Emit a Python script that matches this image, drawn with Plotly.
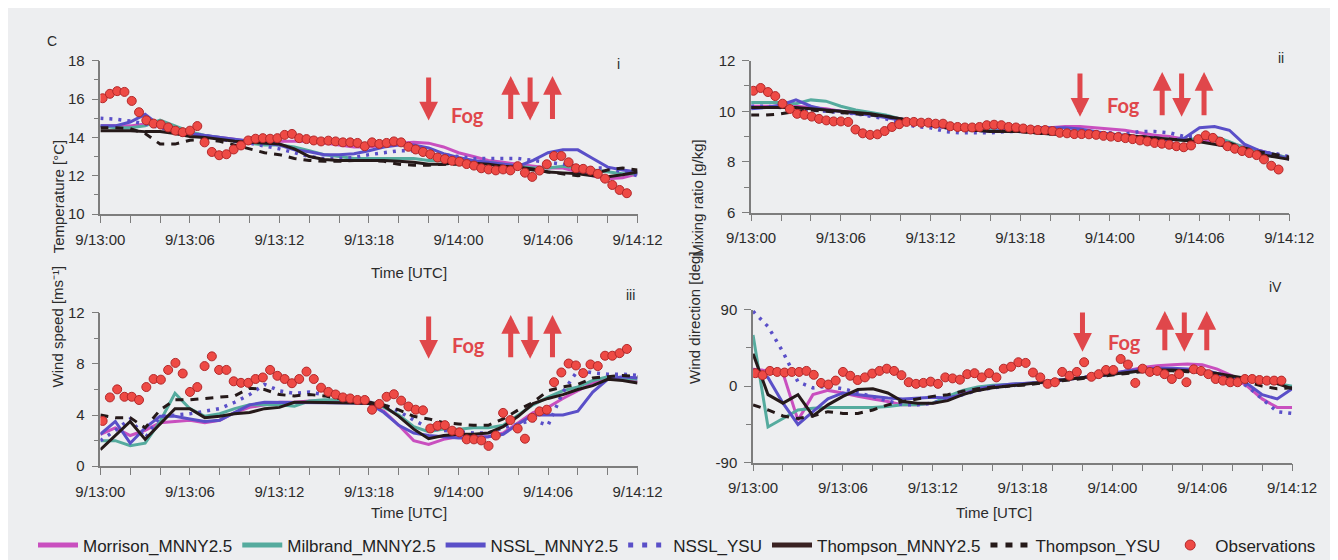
import plotly.graph_objects as go

W, H = 1338, 560

# ---------------- time grids / ticks ----------------
model_hours = list(range(37))                      # hourly model output, 9/13:00 .. 9/14:12
obs_hours = [round(0.15 + 0.488 * k, 3) for k in range(73)]   # ~30-min observations
tick_hours = [0, 6, 12, 18, 24, 30, 36]
tick_labels = ["9/13:00", "9/13:06", "9/13:12", "9/13:18", "9/14:00", "9/14:06", "9/14:12"]
minor_hours = list(range(0, 37, 2))
fog_times = [22.0, 27.5, 28.8, 30.3]
fog_dirs = ["down", "up", "down", "up"]

series_names = ["Morrison_MNNY2.5", "Milbrand_MNNY2.5", "NSSL_MNNY2.5", "NSSL_YSU",
                "Thompson_MNNY2.5", "Thompson_YSU"]

# ---------------- (i) Temperature [°C] ----------------
temp_morrison = [14.6,14.6,14.6,14.7,14.6,14.4,14.2,14.1,14.0,13.9,13.8,13.8,13.8,13.8,13.8,13.7,13.6,13.5,13.5,13.6,
                 13.7,13.75,13.7,13.5,13.2,13.0,12.8,12.7,12.6,12.5,12.4,12.4,12.2,12.0,11.85,11.9,12.1]
temp_milbrand = [14.6,14.5,14.5,14.6,14.9,14.6,14.3,14.1,14.0,13.8,13.7,13.6,13.6,13.5,13.3,13.1,13.0,12.9,12.9,12.9,
                 12.9,12.9,12.8,12.8,12.7,12.7,12.7,12.6,12.5,12.4,12.4,12.5,12.4,12.3,12.2,12.1,12.1]
temp_nssl = [14.6,14.6,14.8,15.2,14.6,14.4,14.2,14.1,14.0,13.9,13.8,13.7,13.6,13.35,13.25,13.1,13.1,13.15,13.3,13.5,
             13.6,13.6,13.45,13.15,12.95,12.8,12.7,12.6,12.5,12.8,13.2,13.35,13.35,12.9,12.45,12.3,12.2]
temp_nssl_ysu = [15.0,14.95,14.85,14.7,14.5,14.3,14.2,14.1,13.9,13.8,13.7,13.55,13.4,13.2,13.0,12.9,12.9,12.95,13.1,13.2,
                 13.3,13.3,13.2,13.1,13.0,12.9,12.9,12.9,12.9,12.8,12.7,12.6,12.5,12.4,12.4,12.2,12.0]
temp_thompson = [14.35,14.35,14.35,14.3,14.3,14.2,14.05,14.0,13.9,13.8,13.75,13.7,13.65,13.4,13.0,12.85,12.8,12.8,12.8,12.8,
                 12.75,12.7,12.6,12.6,12.7,12.65,12.6,12.5,12.45,12.35,12.2,12.15,12.1,12.0,11.95,12.05,12.2]
temp_thompson_ysu = [14.5,14.5,14.45,14.2,13.65,13.65,13.85,13.9,13.8,13.6,13.4,13.2,13.1,12.9,12.8,12.75,12.75,12.8,12.8,12.75,
                     12.6,12.55,12.55,12.6,12.6,12.5,12.4,12.4,12.4,12.3,12.2,12.1,12.0,12.1,12.3,12.4,12.3]
temp_obs = [16.04,16.27,16.41,16.37,15.9,15.31,14.89,14.72,14.67,14.52,14.35,14.27,14.35,14.59,13.74,13.24,13.07,13.12,
            13.37,13.58,13.84,13.93,13.96,13.93,13.96,14.13,14.18,13.96,
            13.91,13.84,13.79,13.83,13.79,13.74,13.74,13.71,13.54,13.74,13.66,13.71,13.79,13.74,13.51,13.37,13.24,13.12,
            12.95,12.87,12.78,12.73,12.61,12.53,12.39,12.33,12.28,12.33,12.28,12.5,12.16,
            11.94,12.27,12.6,13.03,13.03,12.7,12.39,12.36,12.27,12.1,11.85,11.52,11.26,11.09]

# ---------------- (ii) Mixing ratio [g/kg] ----------------
mix_morrison = [10.2,10.2,10.2,10.2,10.15,10.1,10.0,9.95,9.9,9.8,9.7,9.6,9.5,9.4,9.35,9.3,9.3,9.3,9.3,9.35,
                9.35,9.4,9.4,9.35,9.3,9.25,9.15,9.05,9.0,8.9,8.85,8.85,8.75,8.6,8.45,8.3,8.15]
mix_milbrand = [10.35,10.35,10.35,10.3,10.45,10.4,10.2,10.05,9.95,9.85,9.7,9.6,9.5,9.4,9.35,9.3,9.25,9.25,9.2,9.2,
                9.2,9.2,9.2,9.15,9.1,9.05,9.0,8.95,8.9,8.85,8.95,9.0,8.8,8.55,8.4,8.3,8.15]
mix_nssl = [10.1,10.15,10.25,10.45,10.2,10.05,10.0,9.9,9.85,9.75,9.65,9.55,9.45,9.35,9.3,9.25,9.2,9.25,9.3,9.35,
            9.35,9.35,9.3,9.2,9.1,9.05,9.0,8.95,8.85,8.95,9.35,9.4,9.25,8.7,8.45,8.3,8.1]
mix_nssl_ysu = [10.2,10.2,10.15,10.1,10.05,10.0,9.95,9.9,9.8,9.7,9.55,9.4,9.35,9.2,9.15,9.15,9.15,9.2,9.2,9.2,
                9.2,9.2,9.2,9.15,9.15,9.1,9.2,9.2,9.15,9.0,9.0,8.9,8.7,8.45,8.35,8.35,8.2]
mix_thompson = [10.15,10.15,10.15,10.15,10.1,10.05,10.0,9.95,9.9,9.8,9.7,9.6,9.5,9.4,9.3,9.25,9.2,9.2,9.2,9.15,
                9.1,9.1,9.1,9.05,9.05,9.0,9.0,8.95,8.9,8.85,8.8,8.7,8.6,8.45,8.3,8.2,8.1]
mix_thompson_ysu = [9.85,9.85,9.9,10.0,10.05,10.0,9.95,9.9,9.85,9.8,9.7,9.55,9.45,9.35,9.3,9.25,9.2,9.2,9.2,9.15,
                    9.1,9.1,9.1,9.1,9.05,9.05,9.0,8.95,8.9,8.85,8.95,8.9,8.75,8.55,8.4,8.3,8.2]
mix_obs = [10.81,10.92,10.76,10.6,10.3,10.09,9.9,9.86,9.79,9.7,9.64,9.6,9.6,9.58,9.28,9.13,9.07,9.09,9.22,9.38,
           9.49,9.58,9.58,9.55,9.55,9.51,9.51,9.41,9.38,9.36,9.36,9.38,9.45,9.47,9.45,9.38,9.36,9.32,9.28,9.26,
           9.26,9.22,9.15,9.13,9.1,9.1,9.09,9.07,9.03,9.0,8.98,8.94,8.9,8.85,8.81,8.75,
           8.72,8.68,8.62,8.58,8.65,8.9,9.05,8.95,8.8,8.62,8.52,8.43,8.35,8.27,8.1,7.85,7.7]

# ---------------- (iii) Wind speed [m/s] ----------------
wind_morrison = [2.5,3.0,2.4,2.8,3.4,3.5,3.6,3.4,3.6,4.2,4.6,4.8,5.0,5.0,5.1,5.1,5.0,5.0,4.9,4.3,
                 3.2,2.0,1.7,2.1,2.3,2.3,2.3,2.6,3.4,4.2,4.6,5.3,5.9,6.5,6.9,6.8,6.6]
wind_milbrand = [2.0,2.0,1.6,1.8,3.5,5.7,4.5,3.9,4.1,4.5,4.8,4.8,4.8,4.7,5.1,5.2,5.2,5.1,5.0,4.6,
                 4.0,3.1,2.7,2.9,2.9,3.0,3.0,3.2,4.0,4.8,5.4,5.9,6.2,6.7,7.0,6.9,6.8]
wind_nssl = [2.5,3.5,1.8,3.0,3.9,3.9,3.7,3.5,3.6,4.2,4.8,5.0,5.0,5.0,5.0,5.0,5.0,4.95,4.9,4.2,
             3.2,2.6,2.4,2.3,2.2,2.2,2.3,2.5,3.3,4.0,4.0,4.0,4.3,5.8,6.8,7.0,6.9]
wind_nssl_ysu = [2.0,2.8,3.7,2.2,3.9,4.0,4.1,4.3,4.5,5.0,5.6,6.4,5.9,5.7,5.8,5.6,5.4,5.2,5.0,4.8,
                 4.3,3.6,3.0,2.8,2.7,2.6,2.6,3.0,3.3,3.6,3.2,5.8,7.5,7.3,7.2,7.2,7.1]
wind_thompson = [1.3,2.4,3.5,2.1,3.3,4.5,4.5,3.8,3.9,4.1,4.2,4.5,4.6,5.0,5.0,5.0,5.0,4.95,4.9,4.7,
                 3.9,2.9,2.15,2.4,2.5,2.5,2.6,3.1,3.9,4.9,5.3,5.6,6.0,6.3,6.8,6.7,6.5]
wind_thompson_ysu = [4.0,3.8,3.8,3.0,4.4,5.2,5.2,5.3,5.4,5.5,6.1,6.0,5.6,5.5,5.6,5.5,5.3,5.2,5.0,4.8,
                     4.4,3.9,3.7,3.4,3.3,3.2,3.2,3.7,4.4,5.0,5.9,6.2,6.4,6.9,7.0,7.1,7.0]
wind_obs = [3.54,5.38,6.01,5.43,5.43,5.18,6.19,6.82,6.77,7.53,8.08,7.25,5.81,6.19,7.83,8.59,7.53,7.53,6.64,6.52,
            6.52,6.82,6.94,7.53,7.07,6.82,6.49,6.82,
            7.4,6.82,6.14,5.81,5.61,5.38,5.3,5.18,5.18,4.42,4.87,5.43,5.63,5.13,4.67,4.42,4.37,2.95,3.16,3.21,
            2.78,2.65,2.1,2.1,2.02,1.59,2.4,4.17,3.61,2.95,2.15,
            3.79,4.29,4.42,6.57,7.33,8.03,7.88,7.28,7.96,7.83,8.64,8.64,8.84,9.17]

# ---------------- (iv) Wind direction [deg] ----------------
dir_morrison = [20,18,15,-40,-10,-5,-8,-12,-15,-18,-22,-22,-20,-15,-8,-3,0,2,3,4,
                6,8,10,12,15,18,22,24,25,26,25,20,12,0,-15,-25,-25]
dir_milbrand = [60,-48,-38,-28,-26,-25,-25,-25,-25,-24,-22,-22,-20,-12,-5,-1,1,2,3,4,
                6,8,10,12,14,16,18,19,20,19,18,15,10,8,5,3,0]
dir_nssl = [20,10,-20,-45,-30,-15,-8,-10,-12,-14,-15,-14,-13,-14,-10,-3,0,2,3,4,
            6,8,10,13,15,18,20,21,21,20,19,15,10,3,-10,-15,-3]
dir_nssl_ysu = [88,70,40,5,-2,0,-3,-8,-12,-18,-22,-22,-20,-15,-10,-5,-2,0,2,3,
                5,7,9,11,14,17,19,20,20,19,18,15,10,0,-15,-30,-32]
dir_thompson = [38,-10,-20,-10,-35,-22,-12,-4,-3,-8,-18,-20,-20,-17,-10,-5,-2,0,2,4,
                6,8,10,12,14,16,18,19,19,18,17,15,12,9,6,3,-3]
dir_thompson_ysu = [-22,-28,-35,-38,-35,-30,-32,-32,-28,-22,-18,-15,-12,-10,-6,-3,-1,0,1,3,
                    5,7,9,11,13,15,17,18,18,17,16,14,10,5,0,-3,-2]
dir_obs = [15.2,12.9,17.9,16.7,16.0,16.7,16.7,17.9,13.3,3.8,1.9,6.5,16.7,12.2,7.2,10.3,14.8,17.9,20.5,17.9,
           12.9,4.6,2.7,3.8,5.3,2.7,
           10.3,9.1,7.6,14.1,15.2,10.3,15.2,10.3,20.5,22.8,28.1,27.3,16.0,10.3,2.7,4.6,16.7,12.2,16.7,28.1,
           11.0,14.1,19.0,19.0,31.9,25.4,3.8,20.5,16.7,
           17.9,14.1,8.4,14.1,4.6,19.8,17.9,14.1,8.4,6.5,4.6,4.6,8.4,8.4,7.2,6.5,6.5,6.5]

# ---------------- styling ----------------
BG = "#edeef0"
AXC = "#7d7d7d"
TXT = "#2b2b2b"
FONT = "Liberation Sans, Arial, sans-serif"
line_styles = {
    "Morrison_MNNY2.5": dict(color="#c94fbf", width=3, dash="solid"),
    "Milbrand_MNNY2.5": dict(color="#55ab9e", width=3, dash="solid"),
    "NSSL_MNNY2.5": dict(color="#5a4fc8", width=3, dash="solid"),
    "NSSL_YSU": dict(color="#5a4fc8", width=3.5, dash="3px,6px"),
    "Thompson_MNNY2.5": dict(color="#251919", width=3, dash="solid"),
    "Thompson_YSU": dict(color="#251919", width=3, dash="8px,7px"),
}
legend_styles = {
    "Morrison_MNNY2.5": dict(color="#c94fbf", width=5, dash="solid"),
    "Milbrand_MNNY2.5": dict(color="#55ab9e", width=5, dash="solid"),
    "NSSL_MNNY2.5": dict(color="#5a4fc8", width=5, dash="solid"),
    "NSSL_YSU": dict(color="#5a4fc8", width=5, dash="5px,9px"),
    "Thompson_MNNY2.5": dict(color="#3a2222", width=5, dash="solid"),
    "Thompson_YSU": dict(color="#251919", width=5, dash="7px,8px"),
}
OBS_FILL = "#ee4a45"
OBS_EDGE = "#b3282a"
FOG_C = "#e0474b"

panels = [
    dict(xa="x", ya="y", series=[temp_morrison, temp_milbrand, temp_nssl, temp_nssl_ysu, temp_thompson, temp_thompson_ysu],
         obs=temp_obs, xdom=[70, 628], ydom=[45, 203.3], yrange=[10, 18], ytv=[10, 12, 14, 16, 18], ymin=[11, 13, 15, 17],
         ytitle="Temperature [°C]", ytx=15, label="i", lab=(608, 38), arrow=(0.90, 0.61), fog=(24.6, 0.74)),
    dict(xa="x2", ya="y2", series=[mix_morrison, mix_milbrand, mix_nssl, mix_nssl_ysu, mix_thompson, mix_thompson_ysu],
         obs=mix_obs, xdom=[746, 1305], ydom=[45, 201.7], yrange=[6, 12], ytv=[6, 8, 10, 12], ymin=[7, 9, 11],
         ytitle="Mixing ratio [g/kg]", ytx=690, label="ii", lab=(1302, 32), arrow=(0.925, 0.63), fog=(24.9, 0.80)),
    dict(xa="x3", ya="y3", series=[wind_morrison, wind_milbrand, wind_nssl, wind_nssl_ysu, wind_thompson, wind_thompson_ysu],
         obs=wind_obs, xdom=[70, 628], ydom=[305, 463.3], yrange=[0, 12], ytv=[0, 4, 8, 12], ymin=[2, 6, 10],
         ytitle="Wind speed [ms⁻¹]", ytx=15, label="iii", lab=(621, 287), arrow=(0.985, 0.70), fog=(24.7, 0.88)),
    dict(xa="x4", ya="y4", series=[dir_morrison, dir_milbrand, dir_nssl, dir_nssl_ysu, dir_thompson, dir_thompson_ysu],
         obs=dir_obs, xdom=[748, 1308], ydom=[301.7, 459.7], yrange=[-90, 90], ytv=[-90, 0, 90], ymin=[-45, 45],
         ytitle="Wind direction [deg]", ytx=687, label="iV", lab=(1300, 278), arrow=(0.99, 0.725), fog=(24.8, 0.878)),
]

fig = go.Figure()
layout = dict(
    width=W, height=H, margin=dict(l=0, r=0, t=0, b=0),
    paper_bgcolor=BG, plot_bgcolor=BG, showlegend=True,
    font=dict(family=FONT, size=15, color=TXT),
    legend=dict(orientation="h", x=0.5, xanchor="center", y=1 - 545 / H, yanchor="middle",
                font=dict(family=FONT, size=17, color="#222222"), bgcolor="rgba(0,0,0,0)",
                itemwidth=40, traceorder="normal"),
)
annotations = []

for pi, p in enumerate(panels):
    for name, vals in zip(series_names, p["series"]):
        fig.add_trace(go.Scatter(x=model_hours, y=vals, mode="lines", name=name, legendgroup=name,
                                 showlegend=False, line=line_styles[name],
                                 xaxis=p["xa"], yaxis=p["ya"], hoverinfo="skip"))
    fig.add_trace(go.Scatter(x=obs_hours, y=p["obs"], mode="markers", name="Observations", legendgroup="obs",
                             showlegend=False,
                             marker=dict(symbol="circle", size=9, color=OBS_FILL, line=dict(color=OBS_EDGE, width=1)),
                             xaxis=p["xa"], yaxis=p["ya"], hoverinfo="skip"))

    xkey = "xaxis" + ("" if pi == 0 else str(pi + 1))
    ykey = "yaxis" + ("" if pi == 0 else str(pi + 1))
    layout[xkey] = dict(
        domain=[p["xdom"][0] / W, p["xdom"][1] / W], anchor=p["ya"], range=[0, 36],
        tickmode="array", tickvals=tick_hours, ticktext=tick_labels,
        ticks="outside", ticklen=7, tickwidth=1.2, tickcolor=AXC, ticklabelstandoff=4,
        showline=True, linecolor=AXC, linewidth=1.5, showgrid=False, zeroline=False,
        tickfont=dict(family=FONT, size=15, color=TXT),
        minor=dict(tickmode="array", tickvals=minor_hours, ticks="outside", ticklen=7,
                   tickwidth=1.2, tickcolor=AXC, showgrid=False),
    )
    layout[ykey] = dict(
        domain=[1 - p["ydom"][1] / H, 1 - p["ydom"][0] / H], anchor=p["xa"], range=p["yrange"],
        tickmode="array", tickvals=p["ytv"], ticktext=[str(v) for v in p["ytv"]],
        ticks="outside", ticklen=7, tickwidth=1.2, tickcolor=AXC, ticklabelstandoff=4,
        showline=True, linecolor=AXC, linewidth=1.5, showgrid=False, zeroline=False,
        tickfont=dict(family=FONT, size=15, color=TXT),
        minor=dict(tickmode="array", tickvals=p["ymin"], ticks="outside", ticklen=5,
                   tickwidth=1.2, tickcolor=AXC, showgrid=False),
    )

    annotations.append(dict(text=p["ytitle"], x=p["ytx"] / W, y=1 - (p["ydom"][0] + p["ydom"][1]) / 2 / H,
                            xref="paper", yref="paper", showarrow=False, textangle=-90,
                            font=dict(family=FONT, size=15, color=TXT)))
    annotations.append(dict(text=p["label"], x=p["lab"][0] / W, y=1 - p["lab"][1] / H, xref="paper", yref="paper",
                            showarrow=False, font=dict(family=FONT, size=14, color=TXT)))
    ydref = p["ya"] + " domain"
    top, bot = p["arrow"]
    for t, d in zip(fog_times, fog_dirs):
        head, tail = (bot, top) if d == "down" else (top, bot)
        annotations.append(dict(x=t, y=head, xref=p["xa"], yref=ydref, ax=t, ay=tail, axref=p["xa"], ayref=ydref,
                                text="", showarrow=True, arrowhead=2, arrowsize=0.75, arrowwidth=5,
                                arrowcolor=FOG_C))
    annotations.append(dict(text="<b>Fog</b>", x=p["fog"][0], y=p["fog"][1], xref=p["xa"], yref=ydref,
                            showarrow=False, font=dict(family="Lato, Open Sans, sans-serif", size=20, color=FOG_C)))

# legend-only entries (thicker symbols, as in the reference key)
for name in series_names:
    fig.add_trace(go.Scatter(x=[None], y=[None], mode="lines", name=name, line=legend_styles[name],
                             showlegend=True, xaxis="x", yaxis="y", hoverinfo="skip"))
fig.add_trace(go.Scatter(x=[None], y=[None], mode="markers", name="Observations", showlegend=True,
                         marker=dict(symbol="circle", size=10, color=OBS_FILL, line=dict(color=OBS_EDGE, width=1)),
                         xaxis="x", yaxis="y", hoverinfo="skip"))

for (cx, cy) in [(349, 264), (349, 522), (1040, 522)]:
    annotations.append(dict(text="Time [UTC]", x=cx / W, y=1 - cy / H, xref="paper", yref="paper",
                            showarrow=False, font=dict(family=FONT, size=15, color=TXT)))
annotations.append(dict(text="C", x=12 / W, y=1 - 14 / H, xref="paper", yref="paper", showarrow=False,
                        font=dict(family=FONT, size=14, color=TXT)))

layout["annotations"] = annotations
fig.update_layout(**layout)
fig.write_html("out.html")
